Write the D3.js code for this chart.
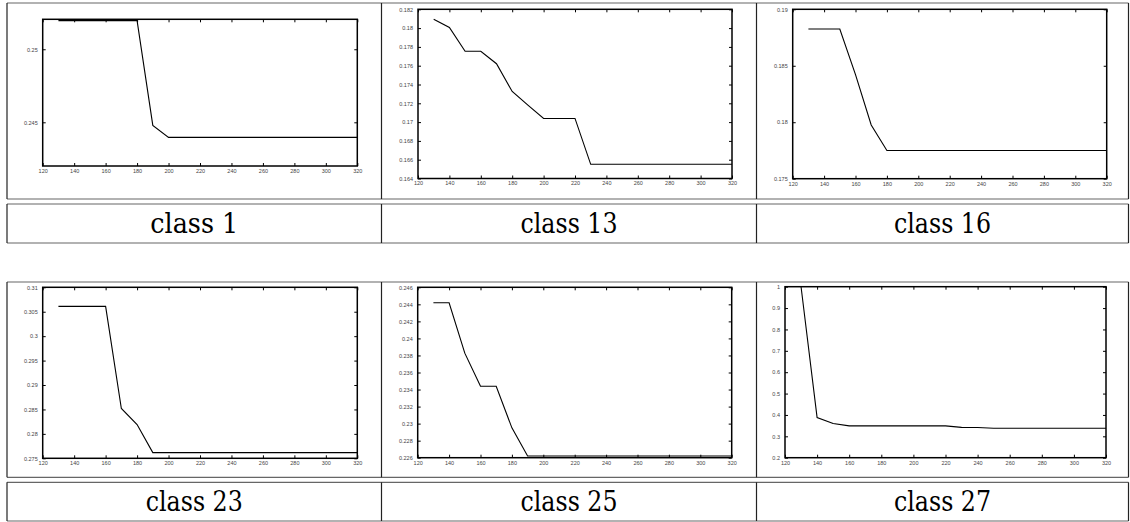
<!DOCTYPE html>
<html>
<head>
<meta charset="utf-8">
<script src="https://cdn.jsdelivr.net/npm/d3@7"></script>
<style>
  body { margin: 0; background: #fff; }
  .tick text { font-family: "Liberation Sans", Arial, sans-serif; font-size: 5.5px; fill: #444; }
  .tick line { stroke: #000; stroke-width: 1; }
  .caption { font-family: "DejaVu Serif", serif; font-size: 27px; fill: #000; }
</style>
</head>
<body>
<svg id="fig" width="1130" height="522"></svg>
<script>
(function() {
    // x positions shared by every panel (130..320)
    var xValues = [130, 140, 150, 160, 170, 180, 190, 200, 210, 220, 230, 240, 250, 260, 270, 280, 290, 300, 310, 320]
    var xTicks = [120, 140, 160, 180, 200, 220, 240, 260, 280, 300, 320]

    var captions = ["class 1", "class 13", "class 16", "class 23", "class 25", "class 27"]

    var class1 = [0.25196, 0.25196, 0.25196, 0.25196, 0.25196, 0.25196, 0.24479, 0.24397, 0.24397, 0.24397,
                  0.24397, 0.24397, 0.24397, 0.24397, 0.24397, 0.24397, 0.24397, 0.24397, 0.24397, 0.24397]
    var class13 = [0.18094, 0.18007, 0.17754, 0.17754, 0.17621, 0.17326, 0.1718, 0.17039, 0.17039, 0.17039,
                   0.16551, 0.16551, 0.16551, 0.16551, 0.16551, 0.16551, 0.16551, 0.16551, 0.16551, 0.16551]
    var class16 = [0.18826, 0.18826, 0.18826, 0.18421, 0.17976, 0.1775, 0.1775, 0.1775, 0.1775, 0.1775,
                   0.1775, 0.1775, 0.1775, 0.1775, 0.1775, 0.1775, 0.1775, 0.1775, 0.1775, 0.1775]
    var class23 = [0.3061, 0.3061, 0.3061, 0.3061, 0.2852, 0.28192, 0.27616, 0.27616, 0.27616, 0.27616,
                   0.27616, 0.27616, 0.27616, 0.27616, 0.27616, 0.27616, 0.27616, 0.27616, 0.27616, 0.27616]
    var class25 = [0.24418, 0.24418, 0.23827, 0.23439, 0.23439, 0.2295, 0.2262, 0.2262, 0.2262, 0.2262,
                   0.2262, 0.2262, 0.2262, 0.2262, 0.2262, 0.2262, 0.2262, 0.2262, 0.2262, 0.2262]
    var class27 = [1.0, 0.3875, 0.36, 0.349, 0.349, 0.349, 0.349, 0.349, 0.349, 0.349,
                   0.342, 0.341, 0.338, 0.338, 0.338, 0.338, 0.338, 0.338, 0.338, 0.338]

    // y limits and tick marks
    var yDomains = [[0.24201, 0.25205], [0.164, 0.182], [0.175, 0.19], [0.275, 0.31], [0.226, 0.246], [0.2, 1]]
    var yTicks1 = [0.245, 0.25]
    var yTicks13 = [0.164, 0.166, 0.168, 0.17, 0.172, 0.174, 0.176, 0.178, 0.18, 0.182]
    var yTicks16 = [0.175, 0.18, 0.185, 0.19]
    var yTicks23 = [0.275, 0.28, 0.285, 0.29, 0.295, 0.3, 0.305, 0.31]
    var yTicks25 = [0.226, 0.228, 0.23, 0.232, 0.234, 0.236, 0.238, 0.24, 0.242, 0.244, 0.246]
    var yTicks27 = [0.2, 0.3, 0.4, 0.5, 0.6, 0.7, 0.8, 0.9, 1]

    var series = [class1, class13, class16, class23, class25, class27]
    var yTickSets = [yTicks1, yTicks13, yTicks16, yTicks23, yTicks25, yTicks27]

    // plot box of each panel: left, right, top, bottom (pixels)
    var boxes = [
        [42.7, 357.3, 19.3, 166],
        [418, 732, 9.3, 178.5],
        [792.7, 1106.7, 9.3, 178.7],
        [42.7, 357.3, 287.3, 458.3],
        [417.7, 731.7, 287.3, 457.7],
        [785, 1106, 286.7, 457.7]
    ]

    var svg = d3.select("#fig")
    var fmt = d3.format("~g")

    // table frame: two rows, each a plot cell and a caption cell
    var colX = [7, 381.5, 756.5, 1128.5]
    var rows = [
        {plot: [3, 199], cap: [204, 243]},
        {plot: [282, 477.3], cap: [482.3, 521]}
    ]
    var frame = svg.append("g")
    rows.forEach(function(r) {
        [r.plot, r.cap].forEach(function(seg) {
            seg.forEach(function(yy) {
                frame.append("line")
                    .attr("x1", colX[0]).attr("x2", colX[3])
                    .attr("y1", yy).attr("y2", yy)
                    .attr("stroke", "#666").attr("stroke-width", 1.2)
            })
            colX.forEach(function(xx) {
                frame.append("line")
                    .attr("x1", xx).attr("x2", xx)
                    .attr("y1", seg[0]).attr("y2", seg[1])
                    .attr("stroke", "#222").attr("stroke-width", 1.2)
            })
        })
    })

    series.forEach(function(vals, i) {
        var b = boxes[i]
        var x = d3.scaleLinear().domain([120, 320]).range([b[0], b[1]])
        var y = d3.scaleLinear().domain(yDomains[i]).range([b[3], b[2]])
        var g = svg.append("g")

        //inward ticks on all four sides, labels only bottom/left
        g.append("g").attr("transform", "translate(0," + b[3] + ")")
            .call(d3.axisBottom(x).tickValues(xTicks).tickSize(-3).tickPadding(3).tickFormat(d3.format("d")))
            .call((a) => a.select(".domain").remove())
        g.append("g").attr("transform", "translate(0," + b[2] + ")")
            .call(d3.axisTop(x).tickValues(xTicks).tickSize(-3).tickFormat(""))
            .call((a) => a.select(".domain").remove())
        g.append("g").attr("transform", "translate(" + b[0] + ",0)")
            .call(d3.axisLeft(y).tickValues(yTickSets[i]).tickSize(-3).tickPadding(5).tickFormat(fmt))
            .call((a) => a.select(".domain").remove())
        g.append("g").attr("transform", "translate(" + b[1] + ",0)")
            .call(d3.axisRight(y).tickValues(yTickSets[i]).tickSize(-3).tickFormat(""))
            .call((a) => a.select(".domain").remove())
        g.selectAll(".tick text").attr("font-size", null).attr("font-family", null).attr("fill", null)

        g.append("rect")
            .attr("x", b[0]).attr("y", b[2])
            .attr("width", b[1] - b[0]).attr("height", b[3] - b[2])
            .attr("fill", "none").attr("stroke", "#000").attr("stroke-width", 1.5)

        var line = d3.line()
            .x(function(d, j) { return x(xValues[j]) })
            .y(function(d) { return y(d) })
        g.append("path")
            .datum(vals)
            .attr("d", line)
            .attr("fill", "none").attr("stroke", "#000").attr("stroke-width", 1.1)

        var r = rows[Math.floor(i / 3)]
        var c = i % 3
        svg.append("text")
            .attr("class", "caption")
            .attr("x", (colX[c] + colX[c + 1]) / 2)
            .attr("y", r.cap[1] - 10.3)
            .attr("text-anchor", "middle")
            .attr("textLength", captions[i].length > 7 ? 97 : 88)
            .attr("lengthAdjust", "spacingAndGlyphs")
            .text(captions[i])
    })
})();
</script>
</body>
</html>
